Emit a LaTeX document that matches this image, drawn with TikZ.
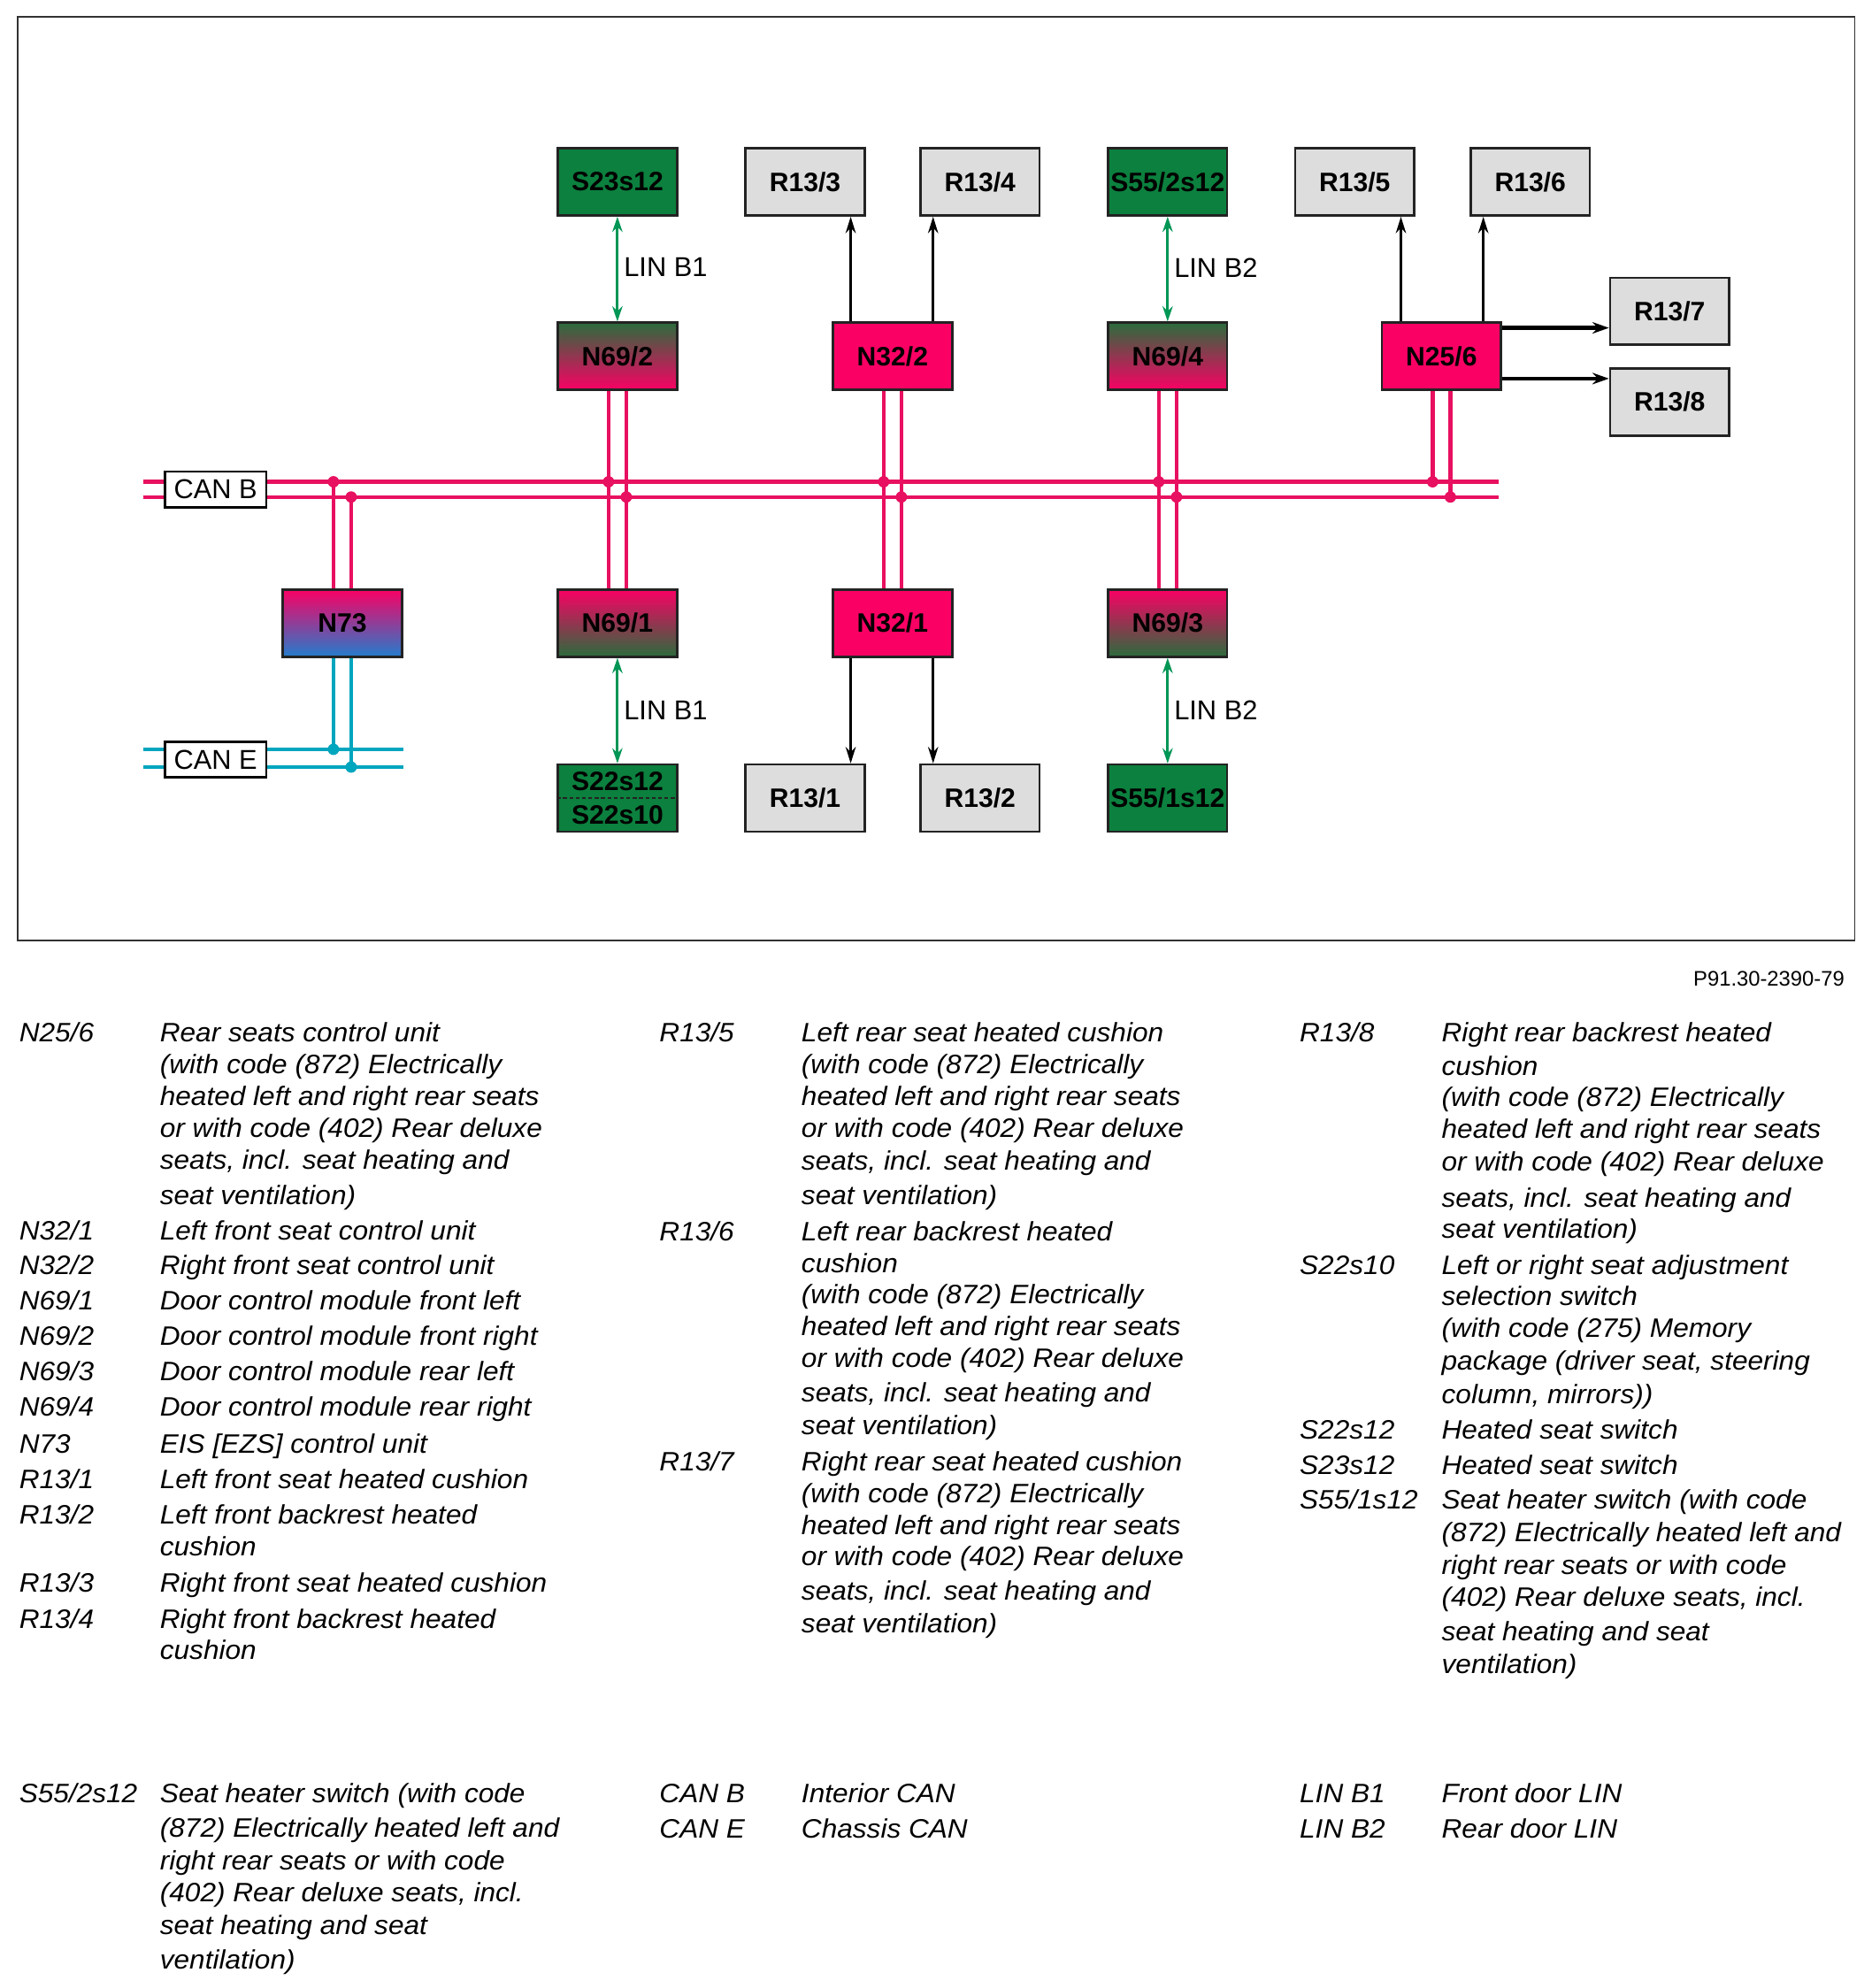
\documentclass[tikz,border=0pt]{standalone}
\usepackage{fontspec}
\setmainfont{Liberation Sans}
\newfontfamily\legfam{Liberation Sans}[FakeStretch=1.05]
\usetikzlibrary{arrows.meta,calc}
\definecolor{pnkfill}{RGB}{250,0,100}
\definecolor{buspink}{RGB}{232,16,96}
\definecolor{grnfill}{RGB}{12,128,62}
\definecolor{grndark}{RGB}{42,108,60}
\definecolor{bluefill}{RGB}{35,125,205}
\definecolor{greyfill}{RGB}{221,221,221}
\definecolor{edge}{RGB}{35,35,35}
\definecolor{cyanbus}{RGB}{0,165,190}
\definecolor{lingreen}{RGB}{0,150,85}
\newcommand\boxfont{\fontsize{21}{22}\selectfont\bfseries}
\newcommand\legfont{\legfam\fontsize{21}{25}\selectfont\itshape}
\newcounter{lgc}
\newcommand\lgl[3]{\stepcounter{lgc}\node[anchor=base west,inner sep=0pt,font=\legfont] (lg\arabic{lgc}) at (#1,#2) {#3};}
\tikzset{
  box/.style={draw=edge, line width=1.8pt, minimum width=94pt, minimum height=53pt, inner sep=0pt, font=\boxfont},
  greybox/.style={box, fill=greyfill},
  grnbox/.style={box, fill=grnfill},
  pnkbox/.style={box, fill=pnkfill},
  gpbox/.style={box, top color=grndark, bottom color=pnkfill},
  pgbox/.style={box, top color=pnkfill, bottom color=grndark},
  pbbox/.style={box, top color=pnkfill, bottom color=bluefill},
  busbox/.style={draw=black, fill=white, line width=1.8pt, minimum width=80pt, minimum height=28pt, inner sep=0pt, font=\fontsize{21.5}{22}\selectfont},
  canbus/.style={line width=3pt, draw=buspink},
  canebus/.style={line width=3pt, draw=cyanbus},
  linarr/.style={line width=2.2pt, draw=lingreen, {Stealth[length=12pt,width=8pt]}-{Stealth[length=12pt,width=8pt]}},
  outarr/.style={line width=2pt, draw=black, -{Stealth[length=13pt,width=8pt]}},
  outthick/.style={line width=3pt, draw=black, -{Stealth[length=13pt,width=9pt]}},
  dotp/.style={circle, inner sep=0pt, minimum size=9pt},
  linlbl/.style={anchor=west, inner sep=0pt, font=\fontsize{21.5}{22}\selectfont},
  labtxt/.style={inner sep=0pt, font=\boxfont},
}
\begin{document}
\begin{tikzpicture}[x=1pt,y=-1pt]
\useasboundingbox (0,0) rectangle (1476,1568);
\fill[white] (0,0) rectangle (1476,1568);
\draw[line width=1.3pt, draw={rgb,255:red,50;green,50;blue,50}] (14,13) rectangle (1463,742);

% bus coordinates
\coordinate (cbL1) at (113,380); \coordinate (cbR1) at (1182,380);
\coordinate (cbL2) at (113,392); \coordinate (cbR2) at (1182,392);
\coordinate (ceL1) at (113,591); \coordinate (ceR1) at (318,591);
\coordinate (ceL2) at (113,605); \coordinate (ceR2) at (318,605);
\draw[canbus] (cbL1) -- (cbR1);
\draw[canbus] (cbL2) -- (cbR2);
\draw[canebus] (ceL1) -- (ceR1);
\draw[canebus] (ceL2) -- (ceR2);
\node[busbox] (canb) at (170,386) {CAN B};
\node[busbox] (cane) at (170,599) {CAN E};

% top row
\node[grnbox]  (S23)  at (487,143.5) {S23s12};
\node[greybox] (R133) at (635,143.5) {R13/3};
\node[greybox] (R134) at (773,143.5) {R13/4};
\node[grnbox]  (S552) at (921,143.5) {S55/2s12};
\node[greybox] (R135) at (1068.5,143.5) {R13/5};
\node[greybox] (R136) at (1207,143.5) {R13/6};
% middle row
\node[gpbox]  (N692) at (487,281) {N69/2};
\node[pnkbox] (N322) at (704,281) {N32/2};
\node[gpbox]  (N694) at (921,281) {N69/4};
\node[pnkbox] (N256) at (1137,281) {N25/6};
\node[greybox] (R137) at (1317,245.5) {R13/7};
\node[greybox] (R138) at (1317,317) {R13/8};
% lower control row
\node[pbbox]  (N73)  at (270,491.5) {N73};
\node[pgbox]  (N691) at (487,491.5) {N69/1};
\node[pnkbox] (N321) at (704,491.5) {N32/1};
\node[pgbox]  (N693) at (921,491.5) {N69/3};
% bottom row
\node[grnbox]  (S22)  at (487,629.5) {};
\node[labtxt] (S22a) at (487,616.5) {S22s12};
\node[labtxt] (S22b) at (487,642.5) {S22s10};
\draw[dashed, draw=edge, line width=1pt, dash pattern=on 3pt off 2pt] (S22.west) -- (S22.east);
\node[greybox] (R131) at (635,629.5) {R13/1};
\node[greybox] (R132) at (773,629.5) {R13/2};
\node[grnbox]  (S551) at (921,629.5) {S55/1s12};

% junctions
\coordinate (jA1) at (263,380); \coordinate (jA2) at (277,392);
\coordinate (jE1) at (263,591); \coordinate (jE2) at (277,605);
\coordinate (j11) at (480,380); \coordinate (j12) at (494,392);
\coordinate (j21) at (697,380); \coordinate (j22) at (711,392);
\coordinate (j31) at (914,380); \coordinate (j32) at (928,392);
\coordinate (j41) at (1130,380); \coordinate (j42) at (1144,392);

\draw[canbus] (N73.north -| jA1) -- (jA1);
\draw[canbus] (N73.north -| jA2) -- (jA2);
\draw[canebus] (N73.south -| jE1) -- (jE1);
\draw[canebus] (N73.south -| jE2) -- (jE2);
\draw[canbus] (N692.south -| j11) -- (N691.north -| j11);
\draw[canbus] (N692.south -| j12) -- (N691.north -| j12);
\draw[canbus] (N322.south -| j21) -- (N321.north -| j21);
\draw[canbus] (N322.south -| j22) -- (N321.north -| j22);
\draw[canbus] (N694.south -| j31) -- (N693.north -| j31);
\draw[canbus] (N694.south -| j32) -- (N693.north -| j32);
\draw[canbus] (N256.south -| j41) -- (j41);
\draw[canbus] (N256.south -| j42) -- (j42);

\foreach \j in {jA1,jA2,j11,j12,j21,j22,j31,j32,j41,j42}
  \node[dotp, fill=buspink] (d\j) at (\j) {};
\foreach \j in {jE1,jE2}
  \node[dotp, fill=cyanbus] (d\j) at (\j) {};

% LIN connections
\draw[linarr] (S23.south) -- (N692.north);
\draw[linarr] (S552.south) -- (N694.north);
\draw[linarr] (N691.south) -- (S22.north);
\draw[linarr] (N693.south) -- (S551.north);
\node[linlbl] (lin1) at (492,211) {LIN B1};
\node[linlbl] (lin2) at (926,211) {LIN B2};
\node[linlbl] (lin3) at (492,560) {LIN B1};
\node[linlbl] (lin4) at (926,560) {LIN B2};

% outputs
\coordinate (a1) at ([xshift=-33pt]N322.north);
\coordinate (a2) at ([xshift=32pt]N322.north);
\coordinate (a3) at ([xshift=-33pt]N321.south);
\coordinate (a4) at ([xshift=32pt]N321.south);
\coordinate (a5) at ([xshift=-32pt]N256.north);
\coordinate (a6) at ([xshift=33pt]N256.north);
\draw[outarr] (a1) -- (a1 |- R133.south);
\draw[outarr] (a2) -- (a2 |- R134.south);
\draw[outarr] (a3) -- (a3 |- R131.north);
\draw[outarr] (a4) -- (a4 |- R132.north);
\draw[outarr] (a5) -- (a5 |- R135.south);
\draw[outarr] (a6) -- (a6 |- R136.south);
\coordinate (h1) at ([yshift=-5pt]N256.north east);
\coordinate (h2) at ([yshift=-45pt]N256.north east);
\draw[outthick] (h1) -- (h1 -| R137.west);
\draw[outthick] (h2) -- (h2 -| R138.west);

\node[anchor=base east, inner sep=0pt, font=\fontsize{16.6}{18}\selectfont] (pnum) at (1455,778) {P91.30-2390-79};

% legend column 1
\lgl{15}{822}{N25/6}
\lgl{126}{822}{Rear seats control unit}
\lgl{126}{847}{(with code (872) Electrically}
\lgl{126}{872}{heated left and right rear seats}
\lgl{126}{897}{or with code (402) Rear deluxe}
\lgl{126}{922}{seats, incl. seat heating and}
\lgl{126}{950}{seat ventilation)}
\lgl{15}{978}{N32/1}\lgl{126}{978}{Left front seat control unit}
\lgl{15}{1005}{N32/2}\lgl{126}{1005}{Right front seat control unit}
\lgl{15}{1033}{N69/1}\lgl{126}{1033}{Door control module front left}
\lgl{15}{1061}{N69/2}\lgl{126}{1061}{Door control module front right}
\lgl{15}{1089}{N69/3}\lgl{126}{1089}{Door control module rear left}
\lgl{15}{1117}{N69/4}\lgl{126}{1117}{Door control module rear right}
\lgl{15}{1146}{N73}\lgl{126}{1146}{EIS [EZS] control unit}
\lgl{15}{1174}{R13/1}\lgl{126}{1174}{Left front seat heated cushion}
\lgl{15}{1202}{R13/2}\lgl{126}{1202}{Left front backrest heated}
\lgl{126}{1227}{cushion}
\lgl{15}{1256}{R13/3}\lgl{126}{1256}{Right front seat heated cushion}
\lgl{15}{1284}{R13/4}\lgl{126}{1284}{Right front backrest heated}
\lgl{126}{1309}{cushion}

% legend column 2
\lgl{520}{822}{R13/5}
\lgl{632}{822}{Left rear seat heated cushion}
\lgl{632}{847}{(with code (872) Electrically}
\lgl{632}{872}{heated left and right rear seats}
\lgl{632}{897}{or with code (402) Rear deluxe}
\lgl{632}{923}{seats, incl. seat heating and}
\lgl{632}{950}{seat ventilation)}
\lgl{520}{978.5}{R13/6}
\lgl{632}{978.5}{Left rear backrest heated}
\lgl{632}{1003.5}{cushion}
\lgl{632}{1028.5}{(with code (872) Electrically}
\lgl{632}{1053.5}{heated left and right rear seats}
\lgl{632}{1078.5}{or with code (402) Rear deluxe}
\lgl{632}{1106}{seats, incl. seat heating and}
\lgl{632}{1131.5}{seat ventilation)}
\lgl{520}{1160}{R13/7}
\lgl{632}{1160}{Right rear seat heated cushion}
\lgl{632}{1185}{(with code (872) Electrically}
\lgl{632}{1210.5}{heated left and right rear seats}
\lgl{632}{1235}{or with code (402) Rear deluxe}
\lgl{632}{1262}{seats, incl. seat heating and}
\lgl{632}{1288}{seat ventilation)}

% legend column 3
\lgl{1025}{822}{R13/8}
\lgl{1137}{822}{Right rear backrest heated}
\lgl{1137}{848}{cushion}
\lgl{1137}{872.5}{(with code (872) Electrically}
\lgl{1137}{898}{heated left and right rear seats}
\lgl{1137}{923.5}{or with code (402) Rear deluxe}
\lgl{1137}{952}{seats, incl. seat heating and}
\lgl{1137}{976.5}{seat ventilation)}
\lgl{1025}{1005}{S22s10}
\lgl{1137}{1005}{Left or right seat adjustment}
\lgl{1137}{1029.5}{selection switch}
\lgl{1137}{1055}{(with code (275) Memory}
\lgl{1137}{1080.5}{package (driver seat, steering}
\lgl{1137}{1107}{column, mirrors))}
\lgl{1025}{1135}{S22s12}\lgl{1137}{1135}{Heated seat switch}
\lgl{1025}{1163}{S23s12}\lgl{1137}{1163}{Heated seat switch}
\lgl{1025}{1190}{S55/1s12}
\lgl{1137}{1190}{Seat heater switch (with code}
\lgl{1137}{1216}{(872) Electrically heated left and}
\lgl{1137}{1241.5}{right rear seats or with code}
\lgl{1137}{1267}{(402) Rear deluxe seats, incl.}
\lgl{1137}{1294}{seat heating and seat}
\lgl{1137}{1320}{ventilation)}

% bottom legend block
\lgl{15}{1422}{S55/2s12}
\lgl{126}{1422}{Seat heater switch (with code}
\lgl{126}{1449}{(872) Electrically heated left and}
\lgl{126}{1475}{right rear seats or with code}
\lgl{126}{1500}{(402) Rear deluxe seats, incl.}
\lgl{126}{1526}{seat heating and seat}
\lgl{126}{1553}{ventilation)}
\lgl{520}{1422}{CAN B}\lgl{632}{1422}{Interior CAN}
\lgl{520}{1450}{CAN E}\lgl{632}{1450}{Chassis CAN}
\lgl{1025}{1422}{LIN B1}\lgl{1137}{1422}{Front door LIN}
\lgl{1025}{1450}{LIN B2}\lgl{1137}{1450}{Rear door LIN}
\end{tikzpicture}
\end{document}
